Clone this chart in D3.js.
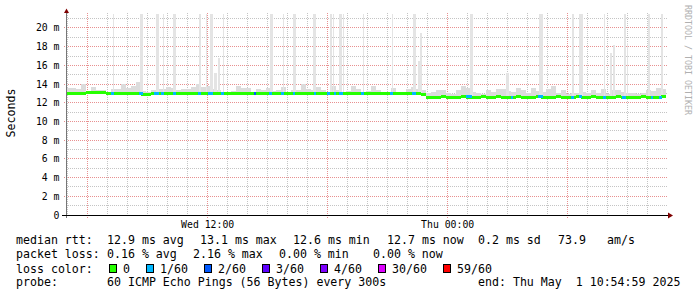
<!DOCTYPE html>
<html>
<head>
<meta charset="utf-8">
<script src="https://cdn.jsdelivr.net/npm/d3@7"></script>
<style>
  body { margin: 0; background: #fff; }
  svg { display: block; font-family: "DejaVu Sans Mono", monospace; }
  text { white-space: pre; }
</style>
</head>
<body>
<svg id="chart" width="697" height="297"></svg>
<script>
// smokeping graph, 30h window, one value per 15 min step
const startTime = '2025-04-30 04:55';
const endTime = '2025-05-01 10:55';
const stepMinutes = 15;

// median rtt in ms
const medianMs = [
  13.02, 13.03, 13.02, 13.03, 13.08, 13.09, 13.08, 13.07, 13.0, 13.01,
  13.0, 12.99, 13.0, 13.01, 13.0, 12.93, 12.92, 12.95, 13.0, 13.01,
  13.0, 13.0, 12.99, 13.0, 13.01, 13.0, 13.0, 13.01, 13.02, 13.01,
  13.0, 12.99, 13.0, 12.95, 12.96, 13.0, 13.01, 12.95, 13.0, 13.0,
  13.01, 13.0, 13.0, 12.99, 13.0, 13.0, 13.01, 13.0, 13.0, 12.99,
  13.0, 13.0, 13.0, 13.01, 13.0, 12.99, 13.0, 13.0, 13.0, 13.01,
  13.0, 13.0, 12.99, 13.0, 13.0, 13.0, 13.01, 13.0, 13.0, 13.0,
  12.98, 12.85, 12.6, 12.62, 12.61, 12.63, 12.62, 12.6, 12.62, 12.63,
  12.61, 12.6, 12.62, 12.64, 12.62, 12.61, 12.63, 12.62, 12.6, 12.62,
  12.63, 12.62, 12.61, 12.62, 12.64, 12.62, 12.6, 12.61, 12.63, 12.62,
  12.6, 12.62, 12.63, 12.61, 12.62, 12.64, 12.62, 12.6, 12.61, 12.62,
  12.63, 12.62, 12.6, 12.62, 12.61, 12.63, 12.62, 12.6, 12.61, 12.64
];

// upper edge of the ordinary smoke band, ms
const smokeTopMs = [
  13.55, 13.6, 13.5, 14.05, 13.2, 13.65, 13.4, 13.35, 13.15, 13.5,
  13.45, 14.0, 13.6, 13.85, 14.25, 13.3, 13.2, 13.35, 13.45, 13.5,
  13.65, 13.6, 13.35, 13.45, 13.5, 13.65, 14.0, 13.65, 13.8, 13.5,
  13.4, 13.2, 13.2, 13.3, 13.75, 13.6, 13.6, 13.2, 13.5, 13.4,
  13.6, 13.25, 13.4, 13.7, 13.2, 13.35, 13.4, 14.05, 13.5, 13.4,
  13.65, 13.4, 13.2, 13.8, 13.35, 13.2, 13.25, 13.75, 13.45, 13.2,
  13.3, 13.8, 13.4, 13.2, 13.2, 13.6, 13.2, 13.15, 13.45, 13.65,
  13.5, 13.35, 13.0, 13.15, 13.4, 13.35, 13.0, 12.9, 13.35, 13.85,
  13.55, 13.2, 13.1, 12.9, 13.35, 13.2, 13.5, 13.45, 13.3, 13.2,
  13.55, 13.4, 13.0, 13.55, 13.3, 13.2, 13.45, 13.8, 13.1, 13.35,
  12.9, 13.0, 13.0, 13.2, 13.0, 13.4, 13.0, 13.5, 12.9, 13.4,
  13.35, 13.2, 13.0, 13.0, 12.9, 13.0, 13.4, 13.25, 13.55, 13.45
];

// single slow pings: [time, peak ms, duration min]
const spikes = [
  ['2025-04-30 07:16', 22, 3], ['2025-04-30 08:38', 22, 8],
  ['2025-04-30 09:24', 22, 9], ['2025-04-30 09:45', 22, 4],
  ['2025-04-30 10:15', 22, 9], ['2025-04-30 11:33', 22, 7],
  ['2025-04-30 11:54', 22, 4], ['2025-04-30 12:08', 22, 8],
  ['2025-04-30 12:20', 15.15, 8], ['2025-04-30 12:32', 16.8, 6],
  ['2025-04-30 12:45', 22, 4], ['2025-04-30 15:06', 22, 9],
  ['2025-04-30 15:45', 22, 4], ['2025-04-30 16:15', 22, 9],
  ['2025-04-30 17:15', 22, 9], ['2025-04-30 18:08', 22, 4],
  ['2025-04-30 18:15', 22, 4], ['2025-04-30 18:33', 22, 10],
  ['2025-04-30 18:45', 22, 4], ['2025-04-30 19:45', 22, 4],
  ['2025-04-30 21:12', 22, 5], ['2025-04-30 22:15', 22, 9],
  ['2025-04-30 22:30', 16.5, 6], ['2025-04-30 22:38', 19.5, 5],
  ['2025-05-01 01:06', 22, 9], ['2025-05-01 02:54', 15.2, 9],
  ['2025-05-01 04:33', 22, 12], ['2025-05-01 06:14', 22, 4],
  ['2025-05-01 06:33', 22, 12], ['2025-05-01 07:48', 22, 4],
  ['2025-05-01 08:08', 17.3, 6], ['2025-05-01 08:17', 18.2, 6],
  ['2025-05-01 08:50', 22, 4], ['2025-05-01 08:57', 18.4, 5],
  ['2025-05-01 10:02', 22, 4], ['2025-05-01 10:41', 22, 4]
];

// periods with packet loss: [time, duration min, loss level index]
const lossEvents = [
  ['2025-04-30 07:09', 9, 1], ['2025-04-30 08:33', 12, 1],
  ['2025-04-30 09:18', 15, 1], ['2025-04-30 09:39', 9, 1],
  ['2025-04-30 10:15', 9, 1], ['2025-04-30 11:30', 11, 1],
  ['2025-04-30 12:00', 15, 1], ['2025-04-30 12:39', 9, 1],
  ['2025-04-30 14:18', 6, 2], ['2025-04-30 15:03', 9, 1],
  ['2025-04-30 15:39', 9, 1], ['2025-04-30 16:15', 8, 1],
  ['2025-04-30 17:18', 8, 1], ['2025-04-30 17:57', 9, 1],
  ['2025-04-30 18:18', 7, 1], ['2025-04-30 18:33', 12, 1],
  ['2025-04-30 19:41', 8, 1], ['2025-04-30 21:07', 8, 1],
  ['2025-04-30 22:14', 10, 1], ['2025-05-01 00:54', 19, 1],
  ['2025-05-01 03:09', 7, 1], ['2025-05-01 04:31', 14, 1],
  ['2025-05-01 06:09', 9, 1], ['2025-05-01 06:33', 11, 1],
  ['2025-05-01 07:45', 9, 1], ['2025-05-01 08:44', 10, 1],
  ['2025-05-01 10:09', 7, 1], ['2025-05-01 10:33', 9, 1]
];

const lossLevels = ['0', '1/60', '2/60', '3/60', '4/60', '30/60', '59/60'];
const lossColors = ['#26ff00', '#00b8ff', '#0059ff', '#5e00ff', '#7e00ff', '#dd00ff', '#ff0000'];

const yTicks = [0, 2, 4, 6, 8, 10, 12, 14, 16, 18, 20];
const xLabelTimes = ['2025-04-30 12:00', '2025-05-01 00:00'];

const statsRows = [
  ['median rtt:', '12.9 ms avg', '13.1 ms max', '12.6 ms min', '12.7 ms now', '0.2 ms sd', '73.9', 'am/s'],
  ['packet loss:', '0.16 % avg', '2.16 % max', '0.00 % min', '0.00 % now'],
  ['probe:', '60 ICMP Echo Pings (56 Bytes) every 300s', 'end: Thu May  1 10:54:59 2025']
];

// ---- layout
const parse = d3.timeParse('%Y-%m-%d %H:%M');
const t0 = parse(startTime);
const t1 = parse(endTime);
const plotLeft = 66, plotRight = 666, plotTop = 15, plotBottom = 215;
const charW = 7;
const rowX = [
  [16, 107, 200, 293, 387, 478, 558, 607],
  [16, 107, 193, 279, 373],
  [16, 107, 478]
];
const rowY = [244, 258, 286];

const svg = d3.select('#chart');
svg.append('rect').attr('width', 697).attr('height', 297).attr('fill', '#fff');

const x = d3.scaleTime().domain([t0, t1]).range([plotLeft, plotRight]);
const y = d3.scaleLinear().domain([0, 21.39]).range([plotBottom, plotTop]);
const snap = v => Math.floor(v) + 0.5;

const stepTime = i => d3.timeMinute.offset(t0, i * stepMinutes);
const stepOf = t => Math.min(medianMs.length - 1, Math.floor((t - t0) / (stepMinutes * 60000)));

// grid
const grid = svg.append('g');
const hours = d3.timeHour.range(d3.timeHour.ceil(t0), t1);
grid.selectAll('line.vminor')
  .data(hours.filter(h => h.getHours() % 6 !== 0))
  .enter().append('line')
  .attr('x1', d => snap(x(d))).attr('x2', d => snap(x(d)))
  .attr('y1', 13).attr('y2', plotBottom)
  .attr('stroke', '#c4c4c4').attr('stroke-dasharray', '1,1');

const minorY = d3.range(1, 22, 2);
grid.selectAll('line.hminor')
  .data(minorY)
  .enter().append('line')
  .attr('x1', plotLeft).attr('x2', plotRight + 2)
  .attr('y1', d => snap(y(d))).attr('y2', d => snap(y(d)))
  .attr('stroke', '#c4c4c4').attr('stroke-dasharray', '1,1');

grid.selectAll('line.vmajor')
  .data(hours.filter(h => h.getHours() % 6 === 0))
  .enter().append('line')
  .attr('x1', d => snap(x(d))).attr('x2', d => snap(x(d)))
  .attr('y1', 13).attr('y2', plotBottom + 3)
  .attr('stroke', '#e89090').attr('stroke-dasharray', '1,1');

grid.selectAll('line.hmajor')
  .data(yTicks.filter(d => d > 0))
  .enter().append('line')
  .attr('x1', plotLeft - 2).attr('x2', plotRight + 2)
  .attr('y1', d => snap(y(d))).attr('y2', d => snap(y(d)))
  .attr('stroke', '#e89090').attr('stroke-dasharray', '1,1');

// smoke
const plot = svg.append('g');
svg.append('clipPath').attr('id', 'clip')
  .append('rect').attr('x', plotLeft).attr('y', plotTop - 1)
  .attr('width', plotRight - plotLeft).attr('height', plotBottom - plotTop + 1);
plot.attr('clip-path', 'url(#clip)');

plot.selectAll('rect.smoke')
  .data(smokeTopMs)
  .enter().append('rect')
  .attr('x', (d, i) => x(stepTime(i)))
  .attr('width', (d, i) => x(stepTime(i + 1)) - x(stepTime(i)))
  .attr('y', d => y(d))
  .attr('height', (d, i) => Math.max(0, y(medianMs[i] - 0.12) - y(d)))
  .attr('fill', '#dcdcdc')
  .attr('shape-rendering', 'crispEdges');

plot.selectAll('rect.spike')
  .data(spikes)
  .enter().append('rect')
  .attr('x', d => x(parse(d[0])))
  .attr('width', d => x(d3.timeMinute.offset(parse(d[0]), d[2])) - x(parse(d[0])))
  .attr('y', d => y(d[1]))
  .attr('height', d => y(medianMs[stepOf(parse(d[0]))]) - y(d[1]))
  .attr('fill', '#e4e4e4')
  .attr('shape-rendering', 'crispEdges');

// median line coloured by loss
plot.selectAll('rect.median')
  .data(medianMs)
  .enter().append('rect')
  .attr('x', (d, i) => x(stepTime(i)))
  .attr('width', (d, i) => x(stepTime(i + 1)) - x(stepTime(i)))
  .attr('y', d => y(d) - 1.5)
  .attr('height', 3)
  .attr('fill', lossColors[0])
  .attr('shape-rendering', 'crispEdges');

plot.selectAll('rect.loss')
  .data(lossEvents)
  .enter().append('rect')
  .attr('x', d => x(parse(d[0])))
  .attr('width', d => x(d3.timeMinute.offset(parse(d[0]), d[1])) - x(parse(d[0])))
  .attr('y', d => y(medianMs[stepOf(parse(d[0]))]) - 1.5)
  .attr('height', 3)
  .attr('fill', d => lossColors[d[2]])
  .attr('shape-rendering', 'crispEdges');

// axes
svg.append('line')
  .attr('x1', plotLeft + 0.5).attr('x2', plotLeft + 0.5)
  .attr('y1', 12).attr('y2', plotBottom + 3)
  .attr('stroke', '#777');
svg.append('line')
  .attr('x1', plotLeft - 4).attr('x2', plotRight + 3)
  .attr('y1', plotBottom + 0.5).attr('y2', plotBottom + 0.5)
  .attr('stroke', '#000');
svg.append('path')
  .attr('d', `M${plotLeft - 2},13 L${plotLeft + 3},13 L${plotLeft + 0.5},8.5 Z`)
  .attr('fill', '#7f0000');
svg.append('path')
  .attr('d', `M${plotRight + 2},212.5 L${plotRight + 2},218.5 L${plotRight + 7},215.5 Z`)
  .attr('fill', '#7f0000');

// y labels
svg.append('g').selectAll('text')
  .data(yTicks)
  .enter().append('text')
  .attr('x', 59.5)
  .attr('y', d => y(d) + 3.5)
  .attr('text-anchor', 'end')
  .attr('font-size', '9.8px')
  .attr('fill', '#000')
  .text(d => d === 0 ? '0' : `${d} m`);

// x labels
const fmtX = d3.timeFormat('%a %H:%M');
svg.append('g').selectAll('text')
  .data(xLabelTimes)
  .enter().append('text')
  .attr('x', d => x(parse(d)))
  .attr('y', 228)
  .attr('text-anchor', 'middle')
  .attr('font-size', '9.8px')
  .text(d => fmtX(parse(d)));

svg.append('text')
  .attr('transform', 'translate(15,113) rotate(-90)')
  .attr('text-anchor', 'middle')
  .attr('font-size', '11.6px')
  .text('Seconds');

svg.append('text')
  .attr('transform', 'translate(685,5) rotate(90)')
  .attr('font-size', '8.3px')
  .attr('fill', '#b0b0b0')
  .text('RRDTOOL / TOBI OETIKER');

// legend text rows
const legend = svg.append('g').attr('font-size', '11.6px').attr('fill', '#000');
statsRows.forEach((row, r) => {
  legend.selectAll(null)
    .data(row)
    .enter().append('text')
    .attr('x', (d, i) => rowX[r][i])
    .attr('y', rowY[r])
    .text(d => d);
});

// loss colour legend
legend.append('text').attr('x', 16).attr('y', 272.5).text('loss color:');
let lx = 109;
lossLevels.forEach((lab, i) => {
  legend.append('rect')
    .attr('x', lx + 0.5).attr('y', 264.5)
    .attr('width', 7).attr('height', 8)
    .attr('fill', lossColors[i]).attr('stroke', '#000');
  legend.append('text').attr('x', lx + 14).attr('y', 272.5).text(lab);
  lx += 30 + lab.length * charW;
});
</script>
</body>
</html>
